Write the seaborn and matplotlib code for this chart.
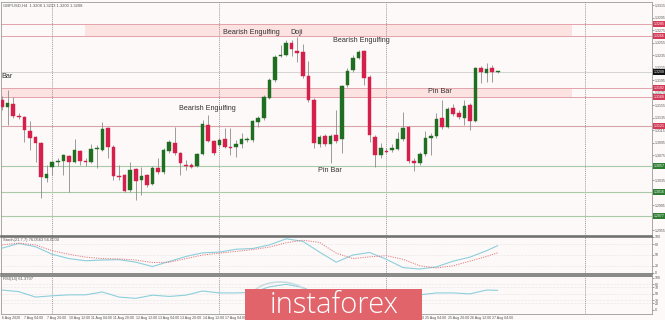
import numpy as np
import pandas as pd
import matplotlib
matplotlib.use("Agg")
import matplotlib.pyplot as plt
import matplotlib.transforms as mtransforms
from matplotlib.patches import Rectangle, Arc
import seaborn as sns

# ---------------- data ----------------
opens = [1.3163,1.3152,1.3157,1.3137,1.3136,1.3113,1.3104,1.3094,1.3038,1.3056,
         1.3064,1.3065,1.3073,1.3064,1.3081,1.3065,1.3064,1.3085,1.3083,1.3118,
         1.3088,1.3041,1.3043,1.3019,1.3053,1.3035,1.3043,1.3029,1.3054,1.3048,
         1.3081,1.3094,1.3078,1.3059,1.3059,1.3057,1.3077,1.3123,1.3097,1.3091,
         1.3101,1.3088,1.3088,1.3093,1.3099,1.3099,1.3128,1.3134,1.3166,1.3195,
         1.3233,1.3235,1.3254,1.3241,1.3240,1.3201,1.3163,1.3093,1.3105,1.3093,
         1.3107,1.3101,1.3187,1.3211,1.3230,1.3241,1.3200,1.3104,1.3075,1.3081,
         1.3083,1.3085,1.3101,1.3120,1.3065,1.3062,1.3077,1.3102,1.3105,1.3134,
         1.3120,1.3150,1.3142,1.3134,1.3155,1.3129,1.3214,1.3206,1.3214,1.3208]
closes = [1.3152,1.3158,1.3137,1.3136,1.3115,1.3102,1.3094,1.3040,1.3045,1.3064,
          1.3065,1.3075,1.3064,1.3083,1.3065,1.3064,1.3085,1.3086,1.3117,1.3088,
          1.3041,1.3040,1.3017,1.3051,1.3033,1.3041,1.3027,1.3054,1.3048,1.3083,
          1.3096,1.3078,1.3062,1.3057,1.3056,1.3077,1.3125,1.3097,1.3078,1.3099,
          1.3088,1.3087,1.3093,1.3101,1.3100,1.3129,1.3134,1.3168,1.3195,1.3232,
          1.3235,1.3254,1.3245,1.3238,1.3201,1.3163,1.3094,1.3104,1.3093,1.3105,
          1.3097,1.3185,1.3209,1.3230,1.3240,1.3198,1.3107,1.3075,1.3086,1.3080,
          1.3086,1.3101,1.3118,1.3065,1.3062,1.3077,1.3102,1.3105,1.3133,1.3120,
          1.3149,1.3141,1.3136,1.3153,1.3129,1.3214,1.3208,1.3213,1.3208,1.3208]
highs = [1.3169,1.3179,1.3168,1.3142,1.3137,1.3129,1.3105,1.3096,1.3059,1.3065,
         1.3070,1.3077,1.3075,1.3101,1.3083,1.3070,1.3093,1.3091,1.3128,1.3120,
         1.3091,1.3059,1.3045,1.3064,1.3054,1.3056,1.3045,1.3057,1.3070,1.3086,
         1.3099,1.3120,1.3080,1.3067,1.3062,1.3078,1.3131,1.3139,1.3099,1.3102,
         1.3118,1.3118,1.3099,1.3110,1.3104,1.3131,1.3137,1.3171,1.3198,1.3235,
         1.3251,1.3259,1.3259,1.3264,1.3253,1.3225,1.3166,1.3107,1.3109,1.3109,
         1.3147,1.3187,1.3214,1.3235,1.3243,1.3243,1.3203,1.3107,1.3094,1.3086,
         1.3093,1.3112,1.3144,1.3121,1.3070,1.3080,1.3113,1.3110,1.3142,1.3163,
         1.3152,1.3157,1.3147,1.3163,1.3158,1.3216,1.3217,1.3222,1.3219,1.3209]
lows = [1.3147,1.3123,1.3134,1.3133,1.3096,1.3083,1.3064,1.3006,1.3032,1.3043,
        1.3057,1.3043,1.3016,1.3062,1.3059,1.3057,1.3062,1.3054,1.3081,1.3070,
        1.3035,1.3035,1.3016,1.3016,1.3003,1.3011,1.3024,1.3027,1.3045,1.3045,
        1.3078,1.3075,1.3043,1.3051,1.3054,1.3056,1.3075,1.3096,1.3075,1.3088,
        1.3086,1.3075,1.3072,1.3086,1.3096,1.3096,1.3120,1.3131,1.3165,1.3192,
        1.3232,1.3233,1.3233,1.3224,1.3198,1.3160,1.3086,1.3088,1.3089,1.3062,
        1.3094,1.3078,1.3184,1.3208,1.3229,1.3187,1.3096,1.3056,1.3070,1.3078,
        1.3080,1.3083,1.3097,1.3062,1.3049,1.3059,1.3073,1.3075,1.3102,1.3117,
        1.3118,1.3137,1.3133,1.3123,1.3115,1.3128,1.3190,1.3192,1.3192,1.3206]

ind_idx = [0,3,6,9,12,15,18,21,24,27,30,33,36,39,42,45,48,51,54,57,60,63,66,69,72,75,78,81,84,87,89]
stoch_main = [69,82,73,52,40,34,36,37,30,18,32,46,56,58,66,68,78,95,88,58,30,50,57,38,15,11,17,33,44,62,76]
stoch_signal = [78,83,78,62,52,44,40,39,36,29,30,40,50,55,60,65,72,84,91,85,55,40,45,48,38,20,14,20,33,46,56]
rsi_vals = [62,57,40,44,47,47,56,40,36,46,42,46,59,53,53,55,72,80,70,48,45,62,48,42,47,47,53,53,50,62,61]

tick_idx = list(range(0, 89, 4))
tick_labels = ["6 Aug 2020", "7 Aug 04:00", "7 Aug 20:00", "10 Aug 12:00", "11 Aug 04:00",
               "11 Aug 20:00", "12 Aug 12:00", "13 Aug 04:00", "13 Aug 20:00", "14 Aug 12:00",
               "17 Aug 04:00", "17 Aug 20:00", "18 Aug 12:00", "19 Aug 04:00", "19 Aug 20:00",
               "20 Aug 12:00", "21 Aug 04:00", "21 Aug 20:00", "24 Aug 12:00", "25 Aug 04:00",
               "25 Aug 20:00", "26 Aug 12:00", "27 Aug 04:00"]

separators = [9, 39, 69, 104.6]
zone_top = (1.3266, 1.3285)
zone_mid = (1.3168, 1.3182)
zone_top_start, zone_mid_start, zone_end = 14.9, -1, 102.3
resistance = [1.3121]
supports = [1.3057, 1.3016, 1.2977]
current_price = 1.3208
price_ticks = [1.3315 - 0.002 * k for k in range(19)]

annotations = [("Bar", -0.05, 1.3200, "left"),
               ("Bearish Engulfing", 44.7, 1.3272, "center"),
               ("Doji", 52.8, 1.3272, "center"),
               ("Bearish Engulfing", 64.6, 1.3258, "center"),
               ("Bearish Engulfing", 36.9, 1.3150, "center"),
               ("Pin Bar", 78.6, 1.3176, "center"),
               ("Pin Bar", 58.8, 1.3050, "center")]

# ---------------- style ----------------
sns.set_theme(style="white")
plt.rcParams['font.family'] = ['Liberation Sans', 'DejaVu Sans']
BG = '#fdf9f8'
UP, DOWN, WICK = '#1f6e22', '#d4204a', '#8c8c8c'

W, H = 665, 320
fig = plt.figure(figsize=(W / 100, H / 100), dpi=100)
fig.patch.set_facecolor(BG)

def rect(x0, y0, x1, y1):
    return [x0 / W, 1 - y1 / H, (x1 - x0) / W, (y1 - y0) / H]

ax = fig.add_axes(rect(1, 2, 652, 236))
ax_st = fig.add_axes(rect(1, 237, 652, 274))
ax_rsi = fig.add_axes(rect(1, 276, 652, 314))
XL = (-0.2, 116.7)

df = pd.DataFrame({"idx": np.arange(len(opens)), "open": opens, "high": highs,
                   "low": lows, "close": closes})
df["up"] = df["close"] >= df["open"]
ind = pd.DataFrame({"idx": ind_idx, "main": stoch_main, "signal": stoch_signal, "rsi": rsi_vals})

for a in (ax, ax_st, ax_rsi):
    a.set_facecolor(BG)
    a.set_xlim(*XL)
    for s in a.spines.values():
        s.set_color('#9a9a9a')
        s.set_linewidth(0.6)
    for s in separators:
        a.axvline(s, color='#7a7a7a', ls=(0, (1.5, 1.5)), lw=0.5, zorder=1)
    a.yaxis.tick_right()
    a.tick_params(axis='y', labelsize=2.5, colors='#555555', length=1.5, pad=0.8, width=0.4)
    a.set_xlabel("")
    a.set_ylabel("")
for a in (ax, ax_st):
    a.spines['bottom'].set_color('#6a6a6a')
    a.spines['bottom'].set_linewidth(1.1)
    a.set_xticks([])
ax_st.spines['top'].set_color('#6a6a6a')
ax_st.spines['top'].set_linewidth(1.1)
ax_rsi.spines['top'].set_color('#6a6a6a')
ax_rsi.spines['top'].set_linewidth(1.1)

# ---------------- main panel ----------------
ax.set_ylim(1.29456, 1.3320)
ax.fill_between([zone_top_start, zone_end], zone_top[0], zone_top[1], color='#fde2e2', lw=0, zorder=0.5)
ax.fill_between([zone_mid_start, zone_end], zone_mid[0], zone_mid[1], color='#fde2e2', lw=0, zorder=0.5)
for lvl in (*zone_top, *zone_mid):
    ax.axhline(lvl, color='#e3a3ab', lw=0.7, zorder=1)
for lvl in resistance:
    ax.axhline(lvl, color='#d8a4ac', lw=0.8, zorder=1)
for lvl in supports:
    ax.axhline(lvl, color='#a9caa9', lw=0.8, zorder=1)
ax.axhline(current_price, color='#cfcfcf', lw=0.6, zorder=1)

ax.vlines(df["idx"], df["low"], df["high"], color=WICK, lw=0.6, zorder=2)
body_bottom = np.minimum(df["open"], df["close"])
body_h = np.maximum((df["close"] - df["open"]).abs(), 0.00012)
cols = np.where(df["up"], UP, DOWN)
ax.bar(df["idx"], body_h, bottom=body_bottom, width=0.64, color=cols,
       edgecolor=cols, linewidth=0.3, zorder=3)

ax.set_yticks(price_ticks)
ax.set_yticklabels([f"{v:.4f}" for v in price_ticks])
ax.set_ylim(1.29456, 1.3320)

for txt, xi, yv, ha in annotations:
    ax.text(xi, yv, txt, fontsize=5.2, color='#333333', ha=ha, va='center', zorder=4)

blend = mtransforms.blended_transform_factory(ax.transAxes, ax.transData)
tags = [(lvl, '#d23a58') for lvl in (*zone_top, *zone_mid, *resistance)] + \
       [(current_price, '#111111')] + [(lvl, '#2f7d32') for lvl in supports]
for lvl, c in tags:
    ax.text(1.003, lvl, f"{lvl:.4f}", transform=blend, fontsize=2.5, color='white',
            ha='left', va='center', clip_on=False, zorder=6,
            bbox=dict(boxstyle='square,pad=0.3', fc=c, ec='none'))

ax.text(0.003, 0.995, "GBPUSD,H4  1.3208 1.3213 1.3200 1.3208", transform=ax.transAxes,
        fontsize=3.0, color='#555555', ha='left', va='top')

# ---------------- stochastic ----------------
ax_st.set_ylim(-2.8, 100)
for lvl in (80, 50, 20):
    ax_st.axhline(lvl, color='#d6d6d6', ls=(0, (1, 1.5)), lw=0.4, zorder=0.8)
sns.lineplot(data=ind, x="idx", y="main", ax=ax_st, color='#8ccfdc', lw=0.8, zorder=3)
sns.lineplot(data=ind, x="idx", y="signal", ax=ax_st, color='#e07b80', lw=0.7,
             linestyle=(0, (1.2, 1.2)), zorder=3)
ax_st.set_yticks([100, 80, 50, 20, 0])
ax_st.set_xlim(*XL)
ax_st.set_xticks([])
ax_st.set_xlabel(""); ax_st.set_ylabel("")
ax_st.text(0.003, 0.97, "Stoch(21,7,7) 76.0563 56.0000", transform=ax_st.transAxes,
           fontsize=3.0, color='#555555', ha='left', va='top')

# ---------------- RSI ----------------
ax_rsi.set_ylim(-13, 106)
for lvl in (80, 70, 50, 30, 20):
    ax_rsi.axhline(lvl, color='#d6d6d6', ls=(0, (1, 1.5)), lw=0.4, zorder=0.8)
sns.lineplot(data=ind, x="idx", y="rsi", ax=ax_rsi, color='#8ccfdc', lw=0.8, zorder=3)
ax_rsi.set_yticks([100, 80, 70, 50, 30, 20, 0])
ax_rsi.set_xlim(*XL)
ax_rsi.set_xticks(tick_idx)
ax_rsi.set_xticklabels(tick_labels, ha='left')
ax_rsi.tick_params(axis='x', labelsize=2.6, colors='#555555', length=1.2, pad=0.4, width=0.4)
ax_rsi.set_xlabel(""); ax_rsi.set_ylabel("")
ax_rsi.text(0.003, 0.97, "RSI(14) 61.3797", transform=ax_rsi.transAxes,
            fontsize=3.0, color='#555555', ha='left', va='top')

# ---------------- logo ----------------
fig.patches.append(Arc((280 / W, 1 - 300 / H), 60 / W, 36 / H, theta1=20, theta2=160,
                       transform=fig.transFigure, color='#c9dde3', lw=1.2, zorder=9))
fig.patches.append(Rectangle((245 / W, 0), (422 - 245) / W, (320 - 289) / H,
                             transform=fig.transFigure, fc='#e1646b', ec='none', zorder=10))
fig.text(334 / W, 1 - 305 / H, "instaforex", color='white', fontsize=21,
         ha='center', va='center', family=['Open Sans', 'DejaVu Sans'],
         fontweight='light', zorder=11)

fig.savefig("out.png", dpi=100, facecolor=BG)
